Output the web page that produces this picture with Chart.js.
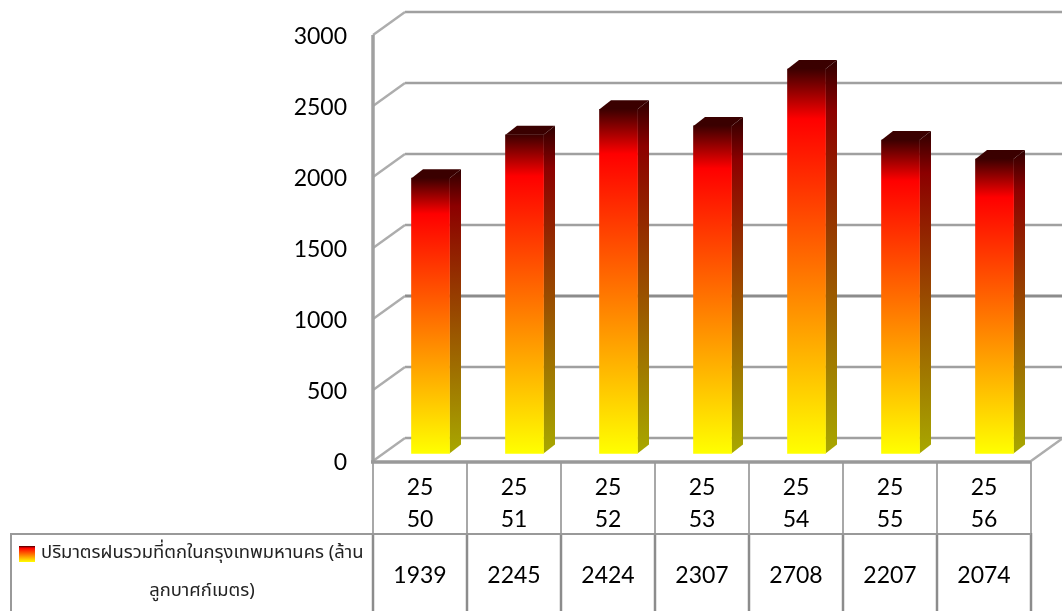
<!DOCTYPE html>
<html><head><meta charset="utf-8">
<style>html,body{margin:0;padding:0;background:#fff}canvas{display:block}</style>
<script src="https://cdn.jsdelivr.net/npm/chart.js@4/dist/chart.umd.min.js"></script>
</head><body><canvas id="c" width="1062" height="611"></canvas>
<script>
const categories = [['25','50'],['25','51'],['25','52'],['25','53'],['25','54'],['25','55'],['25','56']];
const values = [1939,2245,2424,2307,2708,2207,2074];
const seriesLine1 = 'ปริมาตรฝนรวมที่ตกในกรุงเทพมหานคร (ล้าน';
const seriesLine2 = 'ลูกบาศก์เมตร)';
const LATO = 'Lato, Carlito, sans-serif';
const THAI = '"Noto Sans Thai", "Noto Sans", Tahoma, sans-serif';
const WALL = {dx:32, dy:-23};
const BAR = {dx:10.5, dy:-7.5, ox:11.5, oy:-9};

function barGrad(ctx, top, bottom, side){
  const g = ctx.createLinearGradient(0, top, 0, bottom);
  g.addColorStop(0, side ? '#2e0000' : '#3c0000');
  g.addColorStop(0.13, side ? 'rgb(140,0,0)' : 'rgb(255,0,0)');
  g.addColorStop(1, side ? 'rgb(168,168,0)' : 'rgb(255,255,0)');
  return g;
}

const threeD = {
  id:'threeD',
  afterLayout(chart){
    const s = chart.scales.y;
    s.top = 35; s.height = s.bottom - 35; s.configure();
    chart.chartArea.top = 35; chart.chartArea.height = s.height;
  },
  beforeDatasetsDraw(chart){
    const {ctx, scales:{x,y}} = chart;
    const L = x.left, R = x.right;
    ctx.save();
    ctx.lineCap = 'butt';
    y.ticks.forEach(t=>{
      const py = y.getPixelForValue(t.value);
      const heavy = t.value===1000;
      ctx.strokeStyle = heavy ? '#8c8c8c' : '#a0a0a0';
      ctx.lineWidth = heavy ? 3 : 2.4;
      ctx.beginPath();
      ctx.moveTo(L+WALL.dx, py+WALL.dy);
      ctx.lineTo(1062, py+WALL.dy);
      ctx.stroke();
      ctx.strokeStyle = '#adadad';
      ctx.lineWidth = 2.4;
      ctx.beginPath();
      ctx.moveTo(L, py);
      ctx.lineTo(L+WALL.dx, py+WALL.dy);
      ctx.stroke();
    });
    const py0 = y.getPixelForValue(0);
    ctx.strokeStyle = '#adadad'; ctx.lineWidth = 2.4;
    ctx.beginPath(); ctx.moveTo(R, py0); ctx.lineTo(R+WALL.dx, py0+WALL.dy); ctx.stroke();
    ctx.strokeStyle = '#a0a0a0'; ctx.lineWidth = 3.5;
    ctx.beginPath(); ctx.moveTo(L, y.getPixelForValue(3000)); ctx.lineTo(L, py0); ctx.stroke();
    ctx.strokeStyle = '#a8a8a8'; ctx.lineWidth = 2;
    for(let i=0;i<=categories.length;i++){
      const xx = L + (R-L)*i/categories.length;
      ctx.beginPath(); ctx.moveTo(xx, py0); ctx.lineTo(xx, 533); ctx.stroke();
    }
    ctx.strokeStyle = '#8c8c8c'; ctx.lineWidth = 2.5;
    for(let i=0;i<=categories.length;i++){
      const xx = L + (R-L)*i/categories.length;
      ctx.beginPath(); ctx.moveTo(xx, 533); ctx.lineTo(xx, 611); ctx.stroke();
    }
    ctx.strokeStyle = '#999'; ctx.lineWidth = 2;
    ctx.beginPath(); ctx.moveTo(11, 611); ctx.lineTo(11, 534); ctx.lineTo(R, 534); ctx.stroke();
    ctx.strokeStyle = '#999'; ctx.lineWidth = 3.5;
    ctx.beginPath(); ctx.moveTo(L-2, py0+1); ctx.lineTo(R, py0+1); ctx.stroke();
    ctx.restore();
  },
  beforeDatasetDraw(chart, args){
    const ctx = chart.ctx;
    ctx.save();
    ctx.translate(BAR.dx, BAR.dy);
    args.meta.data.forEach(b=>{
      const {x, y, base, width} = b.getProps(['x','y','base','width'], true);
      const r = x+width/2, l = x-width/2;
      ctx.fillStyle = barGrad(ctx, y+BAR.oy, base, true);
      ctx.beginPath();
      ctx.moveTo(r,y); ctx.lineTo(r+BAR.ox,y+BAR.oy); ctx.lineTo(r+BAR.ox,base+BAR.oy); ctx.lineTo(r,base);
      ctx.closePath(); ctx.fill();
      ctx.fillStyle = '#3a0000';
      ctx.beginPath();
      ctx.moveTo(l,y); ctx.lineTo(l+BAR.ox,y+BAR.oy); ctx.lineTo(r+BAR.ox,y+BAR.oy); ctx.lineTo(r,y);
      ctx.closePath(); ctx.fill();
    });
  },
  afterDatasetDraw(chart){ chart.ctx.restore(); },
  afterDraw(chart){
    const {ctx, scales:{x}} = chart;
    ctx.save();
    ctx.fillStyle = '#000';
    ctx.textAlign = 'center'; ctx.textBaseline = 'middle';
    ctx.font = `23px ${LATO}`;
    values.forEach((v,i)=>ctx.fillText(String(v), x.getPixelForValue(i), 576));
    ctx.fillStyle = barGrad(ctx, 546, 562, false); ctx.fillRect(19, 546, 16, 16);
    ctx.fillStyle = '#222';
    ctx.textAlign = 'left';
    ctx.font = `18.4px ${THAI}`;
    ctx.fillText(seriesLine1, 41, 554);
    ctx.textAlign = 'center';
    ctx.fillText(seriesLine2, 202, 592);
    ctx.restore();
  }
};

new Chart(document.getElementById('c'), {
  type:'bar',
  data:{labels:categories, datasets:[{
    label: seriesLine1+' '+seriesLine2,
    data: values,
    barThickness:38,
    clip:false,
    borderWidth:0,
    backgroundColor(c){
      const ch = c.chart;
      if(!ch.chartArea || !c.parsed) return '#ff0000';
      return barGrad(ch.ctx, ch.scales.y.getPixelForValue(c.parsed.y), ch.scales.y.getPixelForValue(0), false);
    }
  }]},
  options:{
    responsive:false, animation:false,
    layout:{padding:{top:30,right:31,left:0,bottom:0}},
    plugins:{legend:{display:false},tooltip:{enabled:false},title:{display:false}},
    scales:{
      x:{
        grid:{display:false,drawTicks:false},border:{display:false},
        ticks:{autoSkip:false,maxRotation:0,minRotation:0,padding:11,color:'#000',font:{family:LATO,size:23,lineHeight:1.39}},
        afterFit(s){s.height=150;}
      },
      y:{
        min:0,max:3000,
        grid:{display:false,drawTicks:false},border:{display:false},
        ticks:{stepSize:500,padding:26,color:'#000',font:{family:LATO,size:23},callback:v=>String(v)},
        afterFit(s){
          s.width=373;
          if(!s._shifted){
            s._shifted=true;
            const d=s.drawLabels;
            s.drawLabels=function(a){const c=this.ctx;c.save();c.translate(0,2);d.call(this,a);c.restore();};
          }
        }
      }
    }
  },
  plugins:[threeD]
});
</script></body></html>
